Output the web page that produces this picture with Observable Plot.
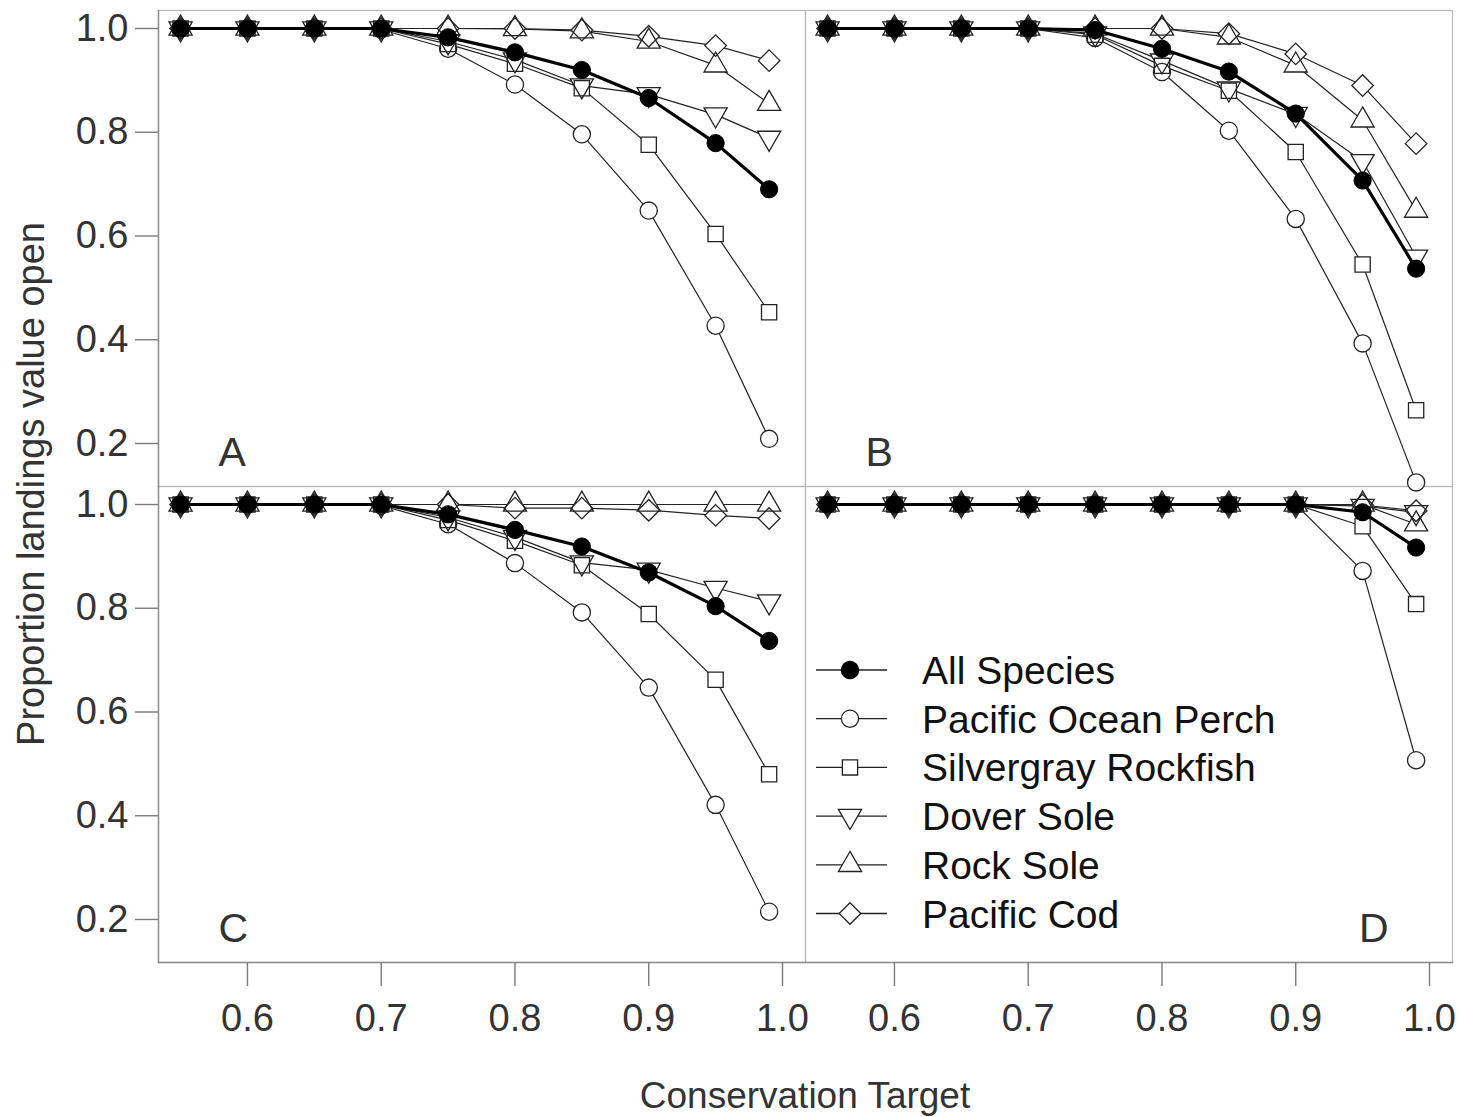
<!DOCTYPE html>
<html><head><meta charset="utf-8">
<script src="https://cdn.jsdelivr.net/npm/d3@7"></script>
<script src="https://cdn.jsdelivr.net/npm/@observablehq/plot@0.6"></script>
<style>
body{margin:0;background:#fff;}
#wrap{position:relative;width:1460px;height:1117px;font-family:"Liberation Sans",Arial,sans-serif;color:#333;}
#wrap > svg{position:absolute;left:0;top:0;}
</style></head><body><div id="wrap"></div>
<script>
// ---- data ----
const targets = [0.55, 0.6, 0.65, 0.7, 0.75, 0.8, 0.85, 0.9, 0.95, 0.99];
const seriesNames = ["All Species", "Pacific Ocean Perch", "Silvergray Rockfish", "Dover Sole", "Rock Sole", "Pacific Cod"];
const panelLetters = ["A", "B", "C", "D"];
const xTicks = [0.6, 0.7, 0.8, 0.9, 1.0];
const yTicks = [0.2, 0.4, 0.6, 0.8, 1.0];
const xLabel = "Conservation Target";
const yLabel = "Proportion landings value open";

// rows: All, POP, Silvergray, Dover, Rock, Cod
const panelA = [
  [1, 1, 1, 1, 0.983, 0.954, 0.920, 0.866, 0.779, 0.690],
  [1, 1, 1, 0.998, 0.961, 0.892, 0.796, 0.649, 0.427, 0.209],
  [1, 1, 1, 1, 0.970, 0.932, 0.885, 0.776, 0.604, 0.453],
  [1, 1, 1, 1, 0.975, 0.940, 0.890, 0.873, 0.834, 0.789],
  [1, 1, 1, 1, 1, 0.999, 0.995, 0.975, 0.929, 0.855],
  [1, 1, 1, 1, 1, 1, 0.997, 0.985, 0.967, 0.938]
];
const panelB = [
  [1, 1, 1, 1, 0.997, 0.961, 0.917, 0.836, 0.707, 0.537],
  [1, 1, 1, 1, 0.982, 0.916, 0.803, 0.633, 0.393, 0.125],
  [1, 1, 1, 1, 0.988, 0.928, 0.880, 0.762, 0.545, 0.264],
  [1, 1, 1, 1, 0.990, 0.938, 0.884, 0.835, 0.744, 0.560],
  [1, 1, 1, 1, 1, 1, 0.983, 0.929, 0.823, 0.649],
  [1, 1, 1, 1, 1, 1, 0.990, 0.951, 0.890, 0.778]
];
const panelC = [
  [1, 1, 1, 1, 0.981, 0.951, 0.919, 0.869, 0.804, 0.737],
  [1, 1, 1, 0.998, 0.962, 0.887, 0.792, 0.647, 0.421, 0.215],
  [1, 1, 1, 1, 0.970, 0.930, 0.883, 0.789, 0.662, 0.480],
  [1, 1, 1, 1, 0.975, 0.937, 0.888, 0.874, 0.839, 0.813],
  [1, 1, 1, 1, 1, 1, 1, 1, 1, 1],
  [1, 1, 1, 1, 1, 0.993, 0.993, 0.989, 0.979, 0.973]
];
const panelD = [
  [1, 1, 1, 1, 1, 1, 1, 1, 0.985, 0.917],
  [1, 1, 1, 1, 1, 1, 1, 1, 0.872, 0.507],
  [1, 1, 1, 1, 1, 1, 1, 1, 0.958, 0.808],
  [1, 1, 1, 1, 1, 1, 1, 1, 0.997, 0.985],
  [1, 1, 1, 1, 1, 1, 1, 1, 1, 0.962],
  [1, 1, 1, 1, 1, 1, 1, 1, 0.999, 0.988]
];

// ---- build table ----
const panels = [panelA, panelB, panelC, panelD];
const rows = [];
panels.forEach((panel, p) => {
  panel.forEach((vals, s) => {
    vals.forEach((v, i) => rows.push({
      fx: p % 2 ? "R" : "L", fy: p < 2 ? "T" : "B",
      series: seriesNames[s], x: targets[i], y: v
    }));
  });
});
const letterRows = panelLetters.map((l, p) => ({fx: p % 2 ? "R" : "L", fy: p < 2 ? "T" : "B", label: l}));

// ---- symbols (R-like pch shapes) ----
const R = 8.6;
const sym = {
  circle: {draw(c) { c.moveTo(R, 0); c.arc(0, 0, R, 0, 2 * Math.PI); c.closePath(); }},
  square: {draw(c) { const s = R * 0.886; c.moveTo(-s, -s); c.lineTo(s, -s); c.lineTo(s, s); c.lineTo(-s, s); c.closePath(); }},
  triDown: {draw(c) { c.moveTo(0, 1.555 * R); c.lineTo(1.3468 * R, -0.7776 * R); c.lineTo(-1.3468 * R, -0.7776 * R); c.closePath(); }},
  triUp: {draw(c) { c.moveTo(0, -1.555 * R); c.lineTo(1.3468 * R, 0.7776 * R); c.lineTo(-1.3468 * R, 0.7776 * R); c.closePath(); }},
  diamond: {draw(c) { const d = R * 1.2533; c.moveTo(0, -d); c.lineTo(d, 0); c.lineTo(0, d); c.lineTo(-d, 0); c.closePath(); }}
};
const seriesSym = [sym.circle, sym.circle, sym.square, sym.triDown, sym.triUp, sym.diamond];

const bySeries = name => rows.filter(d => d.series === name);
const hollow = seriesNames.slice(1);

const marks = [
  Plot.frame({stroke: "#b8b8b8", strokeWidth: 1.2}),
  Plot.frame({anchor: "left", facetAnchor: "left", stroke: "#8c8c8c", strokeWidth: 1.4}),
  Plot.frame({anchor: "bottom", facetAnchor: "bottom", stroke: "#8c8c8c", strokeWidth: 1.4}),
  Plot.axisX({ticks: xTicks, tickFormat: d3.format(".1f"), tickSize: 24, tickPadding: 18, stroke: "#7a7a7a", strokeWidth: 1.4, fill: "#333", fontSize: 38, label: null}),
  Plot.axisY({ticks: yTicks, tickFormat: d3.format(".1f"), tickSize: 23, tickPadding: 7, stroke: "#7a7a7a", strokeWidth: 1.4, fill: "#333", fontSize: 38, label: null}),
  ...hollow.map(n => Plot.line(bySeries(n), {x: "x", y: "y", fx: "fx", fy: "fy", stroke: "#222", strokeWidth: 1.2})),
  ...hollow.map((n, k) => Plot.dot(bySeries(n), {x: "x", y: "y", fx: "fx", fy: "fy", symbol: seriesSym[k + 1], r: R, fill: "white", stroke: null})),
  ...hollow.map((n, k) => Plot.dot(bySeries(n), {x: "x", y: "y", fx: "fx", fy: "fy", symbol: seriesSym[k + 1], r: R, fill: "none", stroke: "#222", strokeWidth: 1.3})),
  Plot.line(bySeries(seriesNames[0]), {x: "x", y: "y", fx: "fx", fy: "fy", stroke: "black", strokeWidth: 3.2}),
  Plot.dot(bySeries(seriesNames[0]), {x: "x", y: "y", fx: "fx", fy: "fy", symbol: sym.circle, r: R, fill: "black", stroke: "black", strokeWidth: 1}),
  Plot.text(letterRows.filter(d => d.label !== "D"), {fx: "fx", fy: "fy", text: "label", frameAnchor: "bottom-left", textAnchor: "start", lineAnchor: "bottom", dx: 60, dy: -21, fontSize: 41, fill: "#333"}),
  Plot.text(letterRows.filter(d => d.label === "D"), {fx: "fx", fy: "fy", text: "label", frameAnchor: "bottom-right", textAnchor: "end", lineAnchor: "bottom", dx: -64, dy: -21, fontSize: 41, fill: "#333"})
];

const chart = Plot.plot({
  width: 1460, height: 1117,
  marginTop: 10, marginRight: 8, marginBottom: 155, marginLeft: 158,
  style: {fontFamily: "'Liberation Sans', Arial, sans-serif", color: "#333", background: "white", overflow: "visible"},
  x: {domain: [0.5335, 1.0172]},
  y: {domain: [0.1171, 1.0347]},
  fx: {domain: ["L", "R"], padding: 0, axis: null},
  fy: {domain: ["T", "B"], padding: 0, axis: null},
  marks
});
const wrap = document.getElementById("wrap");
wrap.appendChild(chart);

// ---- overlay: axis titles and legend ----
const ov = d3.select(wrap).append("svg")
  .attr("width", 1460).attr("height", 1117)
  .style("font-family", "'Liberation Sans', Arial, sans-serif");
ov.append("text").attr("transform", "translate(44,484) rotate(-90)")
  .attr("text-anchor", "middle").attr("fill", "#333").attr("font-size", 38).text(yLabel);
ov.append("text").attr("x", 805).attr("y", 1108)
  .attr("text-anchor", "middle").attr("fill", "#333").attr("font-size", 37).text(xLabel);

const leg = ov.append("g").attr("transform", "translate(816,670)");
seriesNames.forEach((name, i) => {
  const g = leg.append("g").attr("transform", `translate(0,${i * 48.7})`);
  g.append("line").attr("x1", 0).attr("x2", 71).attr("y1", 0).attr("y2", 0)
    .attr("stroke", "#222").attr("stroke-width", 1.3);
  g.append("path").attr("transform", "translate(34,0)")
    .attr("d", d3.symbol(seriesSym[i])())
    .attr("fill", i === 0 ? "black" : "white")
    .attr("stroke", i === 0 ? "black" : "#222").attr("stroke-width", 1.3);
  g.append("text").attr("x", 106).attr("y", 14).attr("fill", "#111")
    .attr("font-size", 39).text(name);
});
</script>
</body></html>
